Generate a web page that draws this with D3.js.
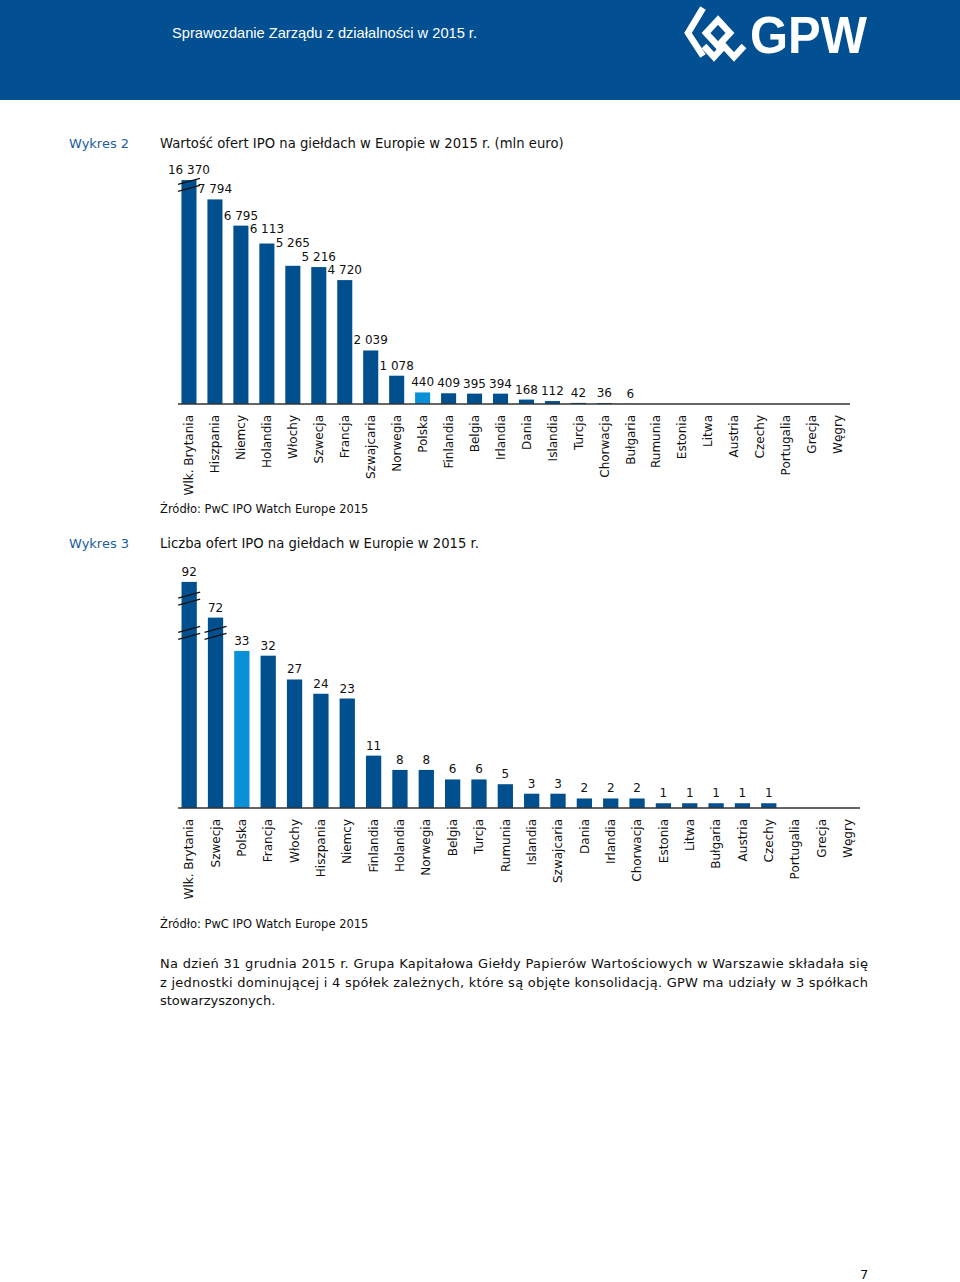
<!DOCTYPE html>
<html>
<head>
<meta charset="utf-8">
<script src="https://cdn.jsdelivr.net/npm/d3@7"></script>
<style>
  body { margin: 0; background: #fff; }
  text { font-family: "DejaVu Sans", Verdana, sans-serif; }
</style>
</head>
<body>
<svg id="page" width="960" height="1282"></svg>
<script>
// Wykres 2 - wartosc ofert IPO (mln euro)
var countries2 = ["Wlk. Brytania", "Hiszpania", "Niemcy", "Holandia", "Włochy", "Szwecja", "Francja",
    "Szwajcaria", "Norwegia", "Polska", "Finlandia", "Belgia", "Irlandia", "Dania", "Islandia", "Turcja",
    "Chorwacja", "Bułgaria", "Rumunia", "Estonia", "Litwa", "Austria", "Czechy", "Portugalia", "Grecja", "Węgry"];
var values2 = [16370, 7794, 6795, 6113, 5265, 5216, 4720, 2039, 1078, 440, 409, 395, 394, 168, 112, 42,
    36, 6, 0, 0, 0, 0, 0, 0, 0, 0];
// slupek przerwany - rysowana wysokosc
var cut2 = [8530];
var breaks2 = [[0, 8350]];

// Wykres 3 - liczba ofert IPO
var countries3 = ["Wlk. Brytania", "Szwecja", "Polska", "Francja", "Włochy", "Hiszpania", "Niemcy",
    "Finlandia", "Holandia", "Norwegia", "Belgia", "Turcja", "Rumunia", "Islandia", "Szwajcaria", "Dania",
    "Irlandia", "Chorwacja", "Estonia", "Litwa", "Bułgaria", "Austria", "Czechy", "Portugalia", "Grecja", "Węgry"];
var values3 = [92, 72, 33, 32, 27, 24, 23, 11, 8, 8, 6, 6, 5, 3, 3, 2, 2, 2, 1, 1, 1, 1, 1, 0, 0, 0];
var cut3 = [47.5, 40];
var breaks3 = [[0, 44], [0, 36.8], [1, 36.8]];

var highlight = "Polska";

var svg = d3.select("#page");
var dark = "#00508f", light = "#0a90d6";

// naglowek
svg.append("rect").attr("x", 0).attr("y", 0).attr("width", 960).attr("height", 100).attr("fill", "#024f92");
svg.append("text").attr("x", 172).attr("y", 38)
    .style("font-family", "'Liberation Sans Narrow', 'Liberation Sans', Arial, sans-serif")
    .style("font-size", "15px").attr("fill", "#fff")
    .attr("textLength", 305).attr("lengthAdjust", "spacingAndGlyphs")
    .text("Sprawozdanie Zarządu z działalności w 2015 r.");

var logo = svg.append("g").attr("fill", "none").attr("stroke", "#fff").attr("stroke-width", 6.5)
    .attr("stroke-linejoin", "miter");
logo.append("path").attr("d", "M703,8 L688,33 L703,56");
logo.append("path").attr("d", "M718,20 L730,33 L718,46 L706,33 Z");
logo.append("path").attr("d", "M704,46 L714,57 L724,46 L734,57 L744,46");
svg.append("text").attr("x", 750).attr("y", 53)
    .style("font-family", "'Liberation Sans', Arial, sans-serif").style("font-weight", "bold")
    .style("font-size", "52px").attr("fill", "#fff")
    .attr("textLength", 117).attr("lengthAdjust", "spacingAndGlyphs").text("GPW");

function heading(y, num, title) {
    svg.append("text").attr("x", 69).attr("y", y).attr("fill", "#1a5ea3")
        .style("font-size", "13px").text(num);
    svg.append("text").attr("x", 160).attr("y", y).attr("fill", "#111")
        .style("font-size", "13.2px").text(title);
}

function barChart(cats, vals, cut, breaks, x0, x1, base, yMax, yTop) {
    var g = svg.append("g");
    var xScale = d3.scaleBand().domain(cats).range([x0, x1]).paddingInner(0.42).paddingOuter(0.21);
    var yScale = d3.scaleLinear().domain([0, yMax]).range([base, yTop]);
    var shown = vals.map(function (v, i) { return i < cut.length ? cut[i] : v; });

    g.selectAll(".bar")
        .data(cats)
        .enter().append("rect")
        .attr("class", "bar")
        .attr("x", function (d) { return xScale(d); })
        .attr("y", function (d, i) { return yScale(shown[i]); })
        .attr("width", xScale.bandwidth())
        .attr("height", function (d, i) { return base - yScale(shown[i]); })
        .attr("fill", function (d) { return d == highlight ? light : dark; });

    var labels = g.selectAll(".lab")
        .data(cats)
        .enter().append("text")
        .filter(function (d, i) { return vals[i] > 0; })
        .attr("class", "lab")
        .attr("x", function (d) { return xScale(d) + xScale.bandwidth() / 2; })
        .attr("y", function (d) { return yScale(shown[cats.indexOf(d)]) - 6; })
        .attr("text-anchor", "middle")
        .style("font-size", "12px")
        .attr("fill", "#111")
        .text(function (d) { return d3.format(",")(vals[cats.indexOf(d)]).replace(/,/g, " "); });

    // etykiety nachodzace na siebie - przesun wyzej (od prawej)
    var nodes = labels.nodes();
    for (var i = nodes.length - 2; i >= 0; i--) {
        var a = nodes[i], b = nodes[i + 1];
        var wa = a.getComputedTextLength(), wb = b.getComputedTextLength();
        var ax0 = +a.getAttribute("x"), bx0 = +b.getAttribute("x");
        var ay = +a.getAttribute("y"), by = +b.getAttribute("y");
        if (ax0 + wa / 2 + 2 > bx0 - wb / 2 && Math.abs(ay - by) < 13) {
            a.setAttribute("y", Math.min(ay, by - 14));
        }
    }

    // znaczniki przerwania slupka
    breaks.forEach(function (b) {
        var cx = xScale(cats[b[0]]) + xScale.bandwidth() / 2;
        var cy = yScale(b[1]);
        [-3.5, 3.5].forEach(function (o) {
            g.append("line")
                .attr("x1", cx - 11).attr("y1", cy + o + 3)
                .attr("x2", cx + 11).attr("y2", cy + o - 3)
                .attr("stroke", "#111").attr("stroke-width", 1.2);
        });
    });

    var ax = g.append("g")
        .attr("transform", "translate(0," + base + ")")
        .call(d3.axisBottom(xScale).tickSize(0).tickSizeOuter(0));
    ax.select(".domain").attr("stroke", "#333").attr("stroke-width", 1.5)
        .attr("d", "M" + (x0 + 2) + ",0H" + (x1 - 1));
    ax.selectAll("text")
        .attr("transform", "rotate(-90)")
        .attr("x", -11).attr("y", 0).attr("dy", "0.35em")
        .attr("text-anchor", "end")
        .style("font-family", "'DejaVu Sans', Verdana, sans-serif")
        .style("font-size", "12px")
        .attr("fill", "#111");
}

heading(148, "Wykres 2", "Wartość ofert IPO na giełdach w Europie w 2015 r. (mln euro)");
barChart(countries2, values2, cut2, breaks2, 176, 851, 404, 8000, 194);
svg.append("text").attr("x", 160).attr("y", 513).style("font-size", "11.5px").attr("fill", "#111")
    .text("Źródło: PwC IPO Watch Europe 2015");

heading(548, "Wykres 3", "Liczba ofert IPO na giełdach w Europie w 2015 r.");
barChart(countries3, values3, cut3, breaks3, 176, 861, 808, 40, 617.6);
svg.append("text").attr("x", 160).attr("y", 928).style("font-size", "11.5px").attr("fill", "#111")
    .text("Źródło: PwC IPO Watch Europe 2015");

var para = [
    "Na dzień 31 grudnia 2015 r. Grupa Kapitałowa Giełdy Papierów Wartościowych w Warszawie składała się",
    "z jednostki dominującej i 4 spółek zależnych, które są objęte konsolidacją. GPW ma udziały w 3 spółkach",
    "stowarzyszonych."
];
para.forEach(function (line, i) {
    var t = svg.append("text").attr("x", 160).attr("y", 968 + i * 18.5)
        .style("font-size", "13px").attr("fill", "#111").text(line);
    if (i < para.length - 1) t.attr("textLength", 708).attr("lengthAdjust", "spacing");
});

svg.append("text").attr("x", 860).attr("y", 1279).style("font-size", "13px").attr("fill", "#111").text("7");
</script>
</body>
</html>
